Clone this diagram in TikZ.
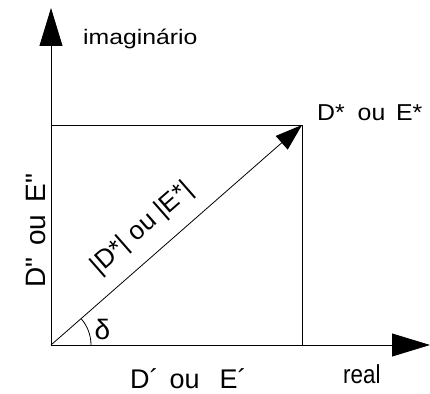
\documentclass[tikz,border=0pt]{standalone}
\usepackage{fontspec}
\setmainfont{Liberation Sans}[Ligatures=TeXOff]
\usetikzlibrary{arrows.meta}

\begin{document}
\begin{tikzpicture}[
    x=1pt, y=1pt,
    every node/.style={inner sep=0pt},
    thin line/.style={line width=0.8pt},
    axis/.style={line width=0.8pt, -{Triangle[length=38pt,width=23pt]}},
    vec/.style={line width=0.8pt, -{Triangle[length=27pt,width=18pt]}},
]
    \useasboundingbox (0,0) rectangle (430,393);
    \coordinate (o) at (51,48);
    \coordinate (yend) at (51,385);
    \coordinate (xend) at (430,48);
    \coordinate (tip) at (302,268);
    \coordinate (px) at (302,48);
    \coordinate (py) at (51,268);
    %% axes
    \draw[axis] (o) -- (yend);
    \draw[axis] (o) -- (xend);
    %% projections
    \draw[thin line] (py) -- (tip) -- (px);
    %% phasor
    \draw[vec] (o) -- node[sloped, above=15pt, pos=0.436,
        font=\fontsize{26}{30}\selectfont] (mag) {|D*| ou |E*|} (tip);
    \draw[thin line] ([xshift=40pt]o) arc[start angle=0, end angle=41.2, radius=40];
    \node[font=\fontsize{28}{32}\selectfont] (ang) at (102.5,64) {δ};
    %% labels
    \node[anchor=base west, font=\fontsize{21}{24}\selectfont] (imlbl) at (83,348)
        {\scalebox{1.18}[1]{imaginário}};
    \node[anchor=base west, font=\fontsize{26}{30}\selectfont] (relbl) at (343,10)
        {\scalebox{0.86}[1]{real}};
    \node[anchor=base west, font=\fontsize{23}{26}\selectfont] (dstar) at (317,272)
        {\scalebox{1.08}[1]{D*\hspace{12pt}ou\hspace{10pt}E*}};
    \node[anchor=base west, font=\fontsize{27}{30}\selectfont] (dre) at (130,5)
        {D´\hspace{11pt}ou\hspace{20pt}E´};
    \node[anchor=base west, rotate=90, font=\fontsize{28}{32}\selectfont] (dim) at (45,105)
        {D"\hspace{12pt}ou\hspace{12pt}E"};
\end{tikzpicture}
\end{document}
